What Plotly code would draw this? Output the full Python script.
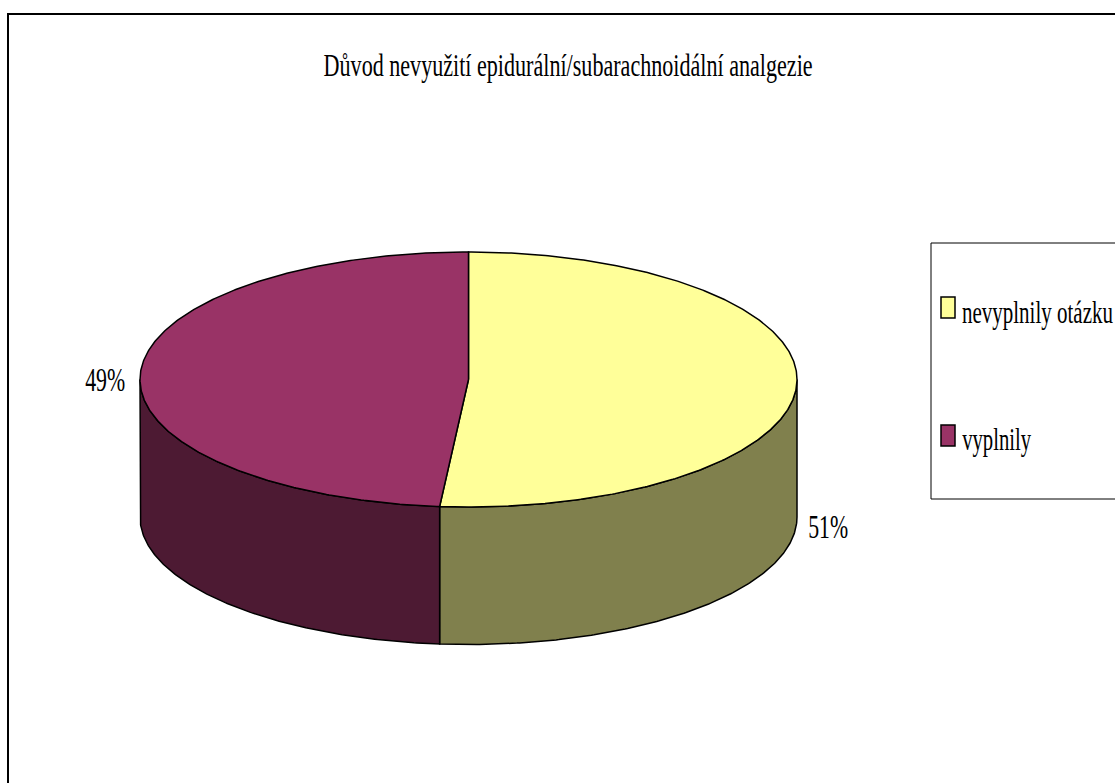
import json
import numpy as np
import plotly.graph_objects as go

title = "Důvod nevyužití epidurální/subarachnoidální analgezie"
categories = ["nevyplnily otázku", "vyplnily"]
values = [51.4, 48.6]
labels = ["51%", "49%"]
top_colors = ["#FFFF99", "#993366"]
side_colors = ["#80804D", "#4D1A33"]

W, H = 1115, 783
CX, CY, RX, RY, DEPTH = 468.5, 379.5, 328.5, 127.5, 137.5
FONT = "Liberation Serif"
INK = "#000000"


def arc(a0, a1, dy=0.0):
    """Points on the pie ellipse; angles are degrees clockwise from the top."""
    n = max(2, int(abs(a1 - a0) * 2) + 1)
    t = np.radians(np.linspace(a0, a1, n))
    return CX + RX * np.sin(t), CY - RY * np.cos(t) + dy


total = sum(values)
split = 360.0 * values[0] / total
spans = [(0.0, split), (split, 360.0)]
front = [(90.0, split), (split, 270.0)]

fig = go.Figure()

# side walls first, so the top face overlaps them
for (a0, a1), colour, name in zip(front, side_colors, categories):
    tx, ty = arc(a0, a1)
    bx, by = arc(a1, a0, DEPTH)
    fig.add_trace(go.Scatter(
        x=np.r_[tx, bx, tx[0]], y=np.r_[ty, by, ty[0]], mode="lines",
        fill="toself", fillcolor=colour, line=dict(color=INK, width=1.5),
        hoverinfo="skip", showlegend=False, name=name + " (bok)"))

# top face
for (a0, a1), colour, name in zip(spans, top_colors, categories):
    ax, ay = arc(a0, a1)
    fig.add_trace(go.Scatter(
        x=np.r_[CX, ax, CX], y=np.r_[CY, ay, CY], mode="lines",
        fill="toself", fillcolor=colour, line=dict(color=INK, width=1.5),
        hoverinfo="skip", showlegend=False, name=name))

shapes = [
    dict(type="rect", x0=8, y0=14, x1=W + 20, y1=H + 20,
         line=dict(color=INK, width=2), layer="below"),
    dict(type="rect", x0=931, y0=243, x1=W + 20, y1=499,
         line=dict(color=INK, width=1), layer="below"),
]
annotations = [
    dict(x=567.5, y=64.5, text=title, font_size=32),
    dict(x=105, y=379, text=labels[1], font_size=34),
    dict(x=828, y=526, text=labels[0], font_size=34),
]
widths = {title: 489, labels[0]: 40, labels[1]: 40, categories[0]: 151, categories[1]: 69}
for cat, colour, y0, y1, ty in zip(categories, top_colors, (297, 425), (318, 446), (312.5, 439)):
    shapes.append(dict(type="rect", x0=941, y0=y0, x1=955, y1=y1,
                       fillcolor=colour, line=dict(color=INK, width=1.5)))
    annotations.append(dict(x=962 + widths[cat] / 2, y=ty, text=cat, font_size=31))

for a in annotations:
    a.update(xref="x", yref="y", showarrow=False, borderpad=0, xanchor="center",
             font=dict(family=FONT, size=a.pop("font_size"), color=INK))

axis = dict(visible=False, fixedrange=True)
fig.update_layout(
    width=W, height=H, margin=dict(l=0, r=0, t=0, b=0),
    paper_bgcolor="white", plot_bgcolor="white", showlegend=False,
    xaxis=dict(range=[0, W], **axis),
    yaxis=dict(range=[H, 0], **axis),
    shapes=shapes, annotations=annotations,
)

# the reference type is a horizontally condensed serif: fit each string to its width
post = """
document.body.style.margin = '0';
document.documentElement.style.overflow = 'hidden';
var fit = %s;
document.querySelectorAll('.annotation-text').forEach(function (t) {
  var w = fit[t.textContent];
  if (w) { t.setAttribute('textLength', w); t.setAttribute('lengthAdjust', 'spacingAndGlyphs'); }
});
""" % json.dumps(widths)

fig.write_html("out.html", post_script=post, config=dict(displayModeBar=False))
